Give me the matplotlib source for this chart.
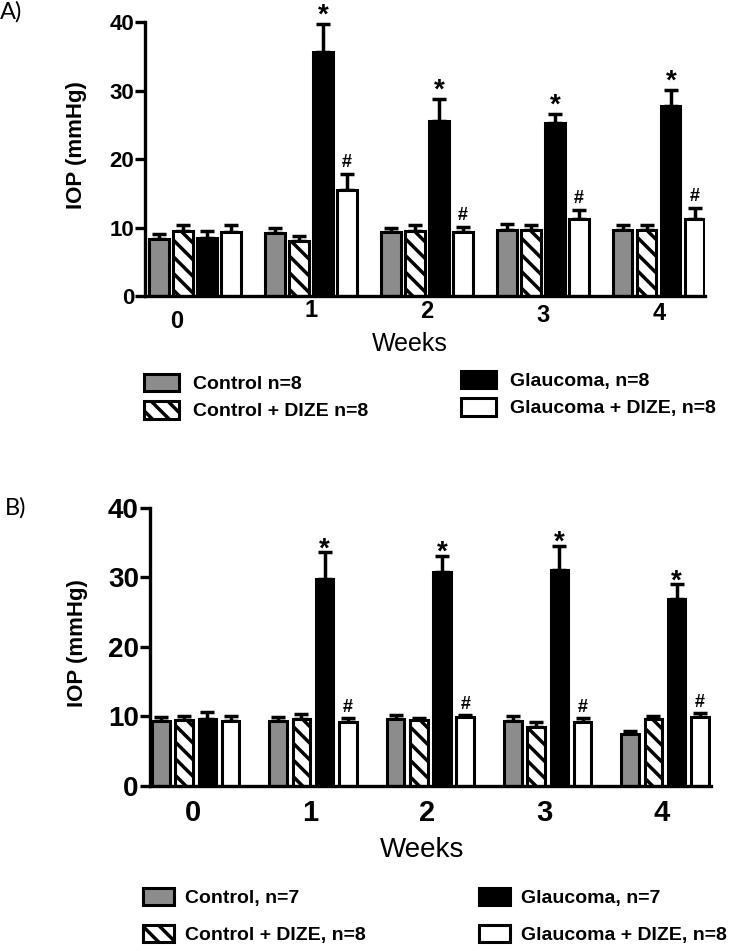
import numpy as np
import matplotlib
matplotlib.use('Agg')
import matplotlib.pyplot as plt
from matplotlib.font_manager import FontProperties

plt.rcParams['hatch.linewidth'] = 2.5

weeks = [0, 1, 2, 3, 4]
week_labels = ['0', '1', '2', '3', '4']

# panel A (IOP, mmHg) - mean and upper SEM
a_control = [8.3, 9.2, 9.3, 9.7, 9.7]
a_control_err = [0.7, 0.7, 0.6, 0.8, 0.7]
a_cdize = [9.5, 8.1, 9.5, 9.7, 9.6]
a_cdize_err = [0.8, 0.6, 0.8, 0.7, 0.7]
a_glauc = [8.5, 35.7, 25.6, 25.2, 27.7]
a_glauc_err = [1.0, 4.0, 3.2, 1.4, 2.4]
a_gdize = [9.3, 15.5, 9.3, 11.3, 11.3]
a_gdize_err = [1.1, 2.3, 0.8, 1.3, 1.6]
a_names = ['Control n=8', 'Control + DIZE n=8', 'Glaucoma, n=8', 'Glaucoma + DIZE, n=8']

# panel B
b_control = [9.3, 9.3, 9.6, 9.3, 7.4]
b_control_err = [0.6, 0.6, 0.6, 0.7, 0.4]
b_cdize = [9.4, 9.6, 9.4, 8.4, 9.6]
b_cdize_err = [0.6, 0.7, 0.3, 0.7, 0.4]
b_glauc = [9.6, 29.7, 30.8, 31.0, 26.9]
b_glauc_err = [1.0, 3.9, 2.3, 3.5, 2.1]
b_gdize = [9.3, 9.1, 9.8, 9.2, 9.9]
b_gdize_err = [0.7, 0.6, 0.3, 0.5, 0.5]
b_names = ['Control, n=7', 'Control + DIZE, n=8', 'Glaucoma, n=7', 'Glaucoma + DIZE, n=8']

styles = [dict(color='#8c8c8c'),
          dict(color='white', hatch='\\\\'),
          dict(color='black'),
          dict(color='white')]

FAM = ['Liberation Sans', 'DejaVu Sans']

fig = plt.figure(figsize=(7.37, 9.51), dpi=100)


def draw_panel(ax, series, errs, step, width, tick_fs, star_dy, hash_dy):
    x = np.array(weeks, dtype=float)
    bars = []
    for i, (vals, err, st) in enumerate(zip(series, errs, styles)):
        xi = x + (i - 1.5) * step
        ax.errorbar(xi, vals, yerr=[np.zeros(len(err)), err], fmt='none',
                    ecolor='black', elinewidth=2.5, capsize=5, capthick=2.5, zorder=1)
        b = ax.bar(xi, vals, width, facecolor=st['color'], edgecolor='black',
                   linewidth=2.2, hatch=st.get('hatch'), zorder=2)
        bars.append(b)
        if i in (2, 3):
            mark = '*' if i == 2 else '#'
            dy = star_dy if i == 2 else hash_dy
            fs = 20 if i == 2 else 13
            for w in weeks[1:]:
                ax.annotate(mark, (xi[w], vals[w] + err[w]), xytext=(0, dy),
                            textcoords='offset pixels', ha='center', va='baseline',
                            fontsize=fs, fontweight='bold', family=FAM)
    ax.set_ylim(0, 40)
    ax.set_yticks([0, 10, 20, 30, 40])
    ax.set_xticks([])
    for s in ['top', 'right']:
        ax.spines[s].set_visible(False)
    for s in ['left', 'bottom']:
        ax.spines[s].set_linewidth(2.4)
    ax.tick_params(axis='y', length=7, width=2.4, pad=1)
    for lbl in ax.get_yticklabels():
        lbl.set_fontproperties(FontProperties(family=FAM, weight='bold', size=tick_fs))
    return bars


# ---- panel A
axA = fig.add_axes([0.197, 0.6887, 0.760, 0.2881])
axA.set_xlim(-0.43, 4.40)
barsA = draw_panel(axA, [a_control, a_cdize, a_glauc, a_gdize],
                   [a_control_err, a_cdize_err, a_glauc_err, a_gdize_err],
                   0.207, 0.165, 16, 1, 7)
a_off = [(-18, -25), (0, -14), (0, -15), (0, -19), (0, -17)]
for w, lab, (dx, dy) in zip(weeks, week_labels, a_off):
    axA.annotate(lab, (w, 0), xycoords=('data', 'axes fraction'), xytext=(dx, dy),
                 textcoords='offset pixels', ha='center', va='center',
                 fontsize=17, fontweight='bold', family=FAM)
axA.text(-0.123, 0.551, 'IOP (mmHg)', transform=axA.transAxes, rotation=90,
         ha='center', va='center', fontsize=16, fontweight='bold', family=FAM)
fig.text(0.556, 1 - 344 / 951, 'Weeks', ha='center', va='center', fontsize=18, family=FAM)
fig.text(0.0, 1 - 12 / 951, 'A)', ha='left', va='center', fontsize=17, family=['Lato', 'DejaVu Sans'])

legA = dict(loc='upper left', frameon=False, borderpad=0, borderaxespad=0,
            handlelength=1.8, handleheight=1.0, handletextpad=0.7, labelspacing=0.4,
            prop=FontProperties(family=FAM, weight='bold', size=14))
fig.legend(barsA[:2], a_names[:2], bbox_to_anchor=(144 / 737, 1 - 374 / 951), **legA)
fig.legend(barsA[2:], a_names[2:], bbox_to_anchor=(461 / 737, 1 - 371 / 951), **legA)

# ---- panel B
axB = fig.add_axes([0.2035, 0.174, 0.761, 0.292])
axB.set_xlim(-0.39, 4.39)
barsB = draw_panel(axB, [b_control, b_cdize, b_glauc, b_gdize],
                   [b_control_err, b_cdize_err, b_glauc_err, b_gdize_err],
                   0.198, 0.15, 20, -4, 6)
for w, lab in zip(weeks, week_labels):
    axB.annotate(lab, (w, 0), xycoords=('data', 'axes fraction'), xytext=(-3, -27),
                 textcoords='offset pixels', ha='center', va='center',
                 fontsize=21, fontweight='bold', family=FAM)
axB.text(-0.130, 0.513, 'IOP (mmHg)', transform=axB.transAxes, rotation=90,
         ha='center', va='center', fontsize=16, fontweight='bold', family=FAM)
fig.text(0.573, 1 - 850 / 951, 'Weeks', ha='center', va='center', fontsize=20, family=FAM)
fig.text(0.006, 1 - 508 / 951, 'B)', ha='left', va='center', fontsize=17, family=['Lato', 'DejaVu Sans'])

legB = dict(loc='upper left', frameon=False, borderpad=0, borderaxespad=0,
            handlelength=1.6, handleheight=1.0, handletextpad=0.55, labelspacing=0.9,
            prop=FontProperties(family=FAM, weight='bold', size=14))
fig.legend(barsB[:2], b_names[:2], bbox_to_anchor=(143 / 737, 1 - 888 / 951), **legB)
fig.legend(barsB[2:], b_names[2:], bbox_to_anchor=(479 / 737, 1 - 888 / 951), **legB)

fig.savefig('out.png', dpi=100)
